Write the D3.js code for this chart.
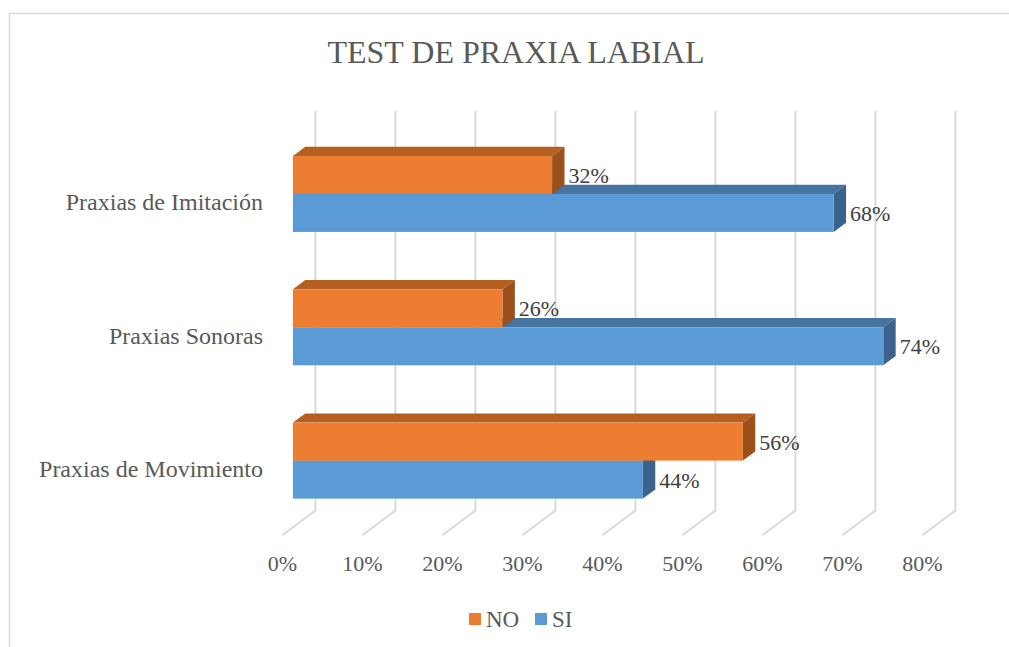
<!DOCTYPE html>
<html><head><meta charset="utf-8">
<script src="https://cdn.jsdelivr.net/npm/d3@7"></script>
<style>body{margin:0;background:#fff;}svg{display:block;}</style>
</head><body>
<svg id="c" width="1009" height="647"></svg>
<script>
const title = "TEST DE PRAXIA LABIAL";
const categories = ["Praxias de Imitación", "Praxias Sonoras", "Praxias de Movimiento"];
const seriesNames = ["NO", "SI"];
const valuesNO = [0.324, 0.262, 0.5625];
const valuesSI = [0.676, 0.738, 0.4375];
const ticks = [0, 0.1, 0.2, 0.3, 0.4, 0.5, 0.6, 0.7, 0.8];

const colors = {
  NO: {front: "#ED7D31", top: "#B65F23", side: "#9C511D"},
  SI: {front: "#5B9BD5", top: "#4674A0", side: "#3A628A"}
};
const font = "'Liberation Serif','Times New Roman',serif";

const svg = d3.select("#c");
// chart border (left/top visible)
svg.append("path").attr("d", "M9.5,647 L9.5,13.5 L1009,13.5")
  .attr("fill", "none").attr("stroke", "#d9d9d9").attr("stroke-width", 1.5);

svg.append("text").attr("x", 516).attr("y", 63).attr("text-anchor", "middle")
  .attr("font-family", font).attr("font-size", 32).attr("fill", "#595959").text(title);

// front-plane scales
const x = d3.scaleLinear().domain([0, 0.8]).range([282.5, 922.5]);
const y = d3.scaleBand().domain(categories).range([135, 535]).paddingInner(0.43).paddingOuter(0.215);
const ys = d3.scaleBand().domain(seriesNames).range([0, y.bandwidth()]);

// depth geometry
const DX = 33, DY = -24.5;     // full floor depth
const bf = 0.315, bd = 0.375;   // bar front depth fraction, bar depth fraction
const fx = DX * bf, fy = DY * bf;
const ddx = DX * bd, ddy = DY * bd;

// back wall gridlines + floor lines
const g = svg.append("g");
ticks.forEach(t => {
  const xb = x(t) + DX;
  g.append("path")
    .attr("d", `M${xb},${135 + DY} L${xb},${535 + DY} L${x(t)},535`)
    .attr("fill", "none").attr("stroke", "#d9d9d9").attr("stroke-width", 2);
});

// tick labels
svg.append("g").selectAll("text").data(ticks).join("text")
  .attr("x", d => x(d)).attr("y", 571).attr("text-anchor", "middle")
  .attr("font-family", font).attr("font-size", 22).attr("fill", "#595959")
  .text(d => d3.format(".0%")(d));

// category labels
svg.append("g").selectAll("text").data(categories).join("text")
  .attr("x", 263).attr("y", d => y(d) + y.bandwidth() / 2 + 8.5)
  .attr("text-anchor", "end")
  .attr("font-family", font).attr("font-size", 24).attr("fill", "#595959")
  .text(d => d);

// bars: SI first (lower), then NO on top
const bars = [];
categories.forEach((c, i) => {
  bars.push({cat: c, s: "SI", v: valuesSI[i]});
});
categories.forEach((c, i) => {
  bars.push({cat: c, s: "NO", v: valuesNO[i]});
});

const bg = svg.append("g");
bars.forEach(b => {
  const x0 = x(0) + fx, x1 = x(b.v) + fx;
  const y0 = y(b.cat) + ys(b.s) + fy, y1 = y0 + ys.bandwidth();
  const col = colors[b.s];
  // top face
  bg.append("path").attr("d",
    `M${x0},${y0} L${x0 + ddx},${y0 + ddy} L${x1 + ddx},${y0 + ddy} L${x1},${y0} Z`)
    .attr("fill", col.top);
  // side face
  bg.append("path").attr("d",
    `M${x1},${y0} L${x1 + ddx},${y0 + ddy} L${x1 + ddx},${y1 + ddy} L${x1},${y1} Z`)
    .attr("fill", col.side);
  // front face
  bg.append("rect").attr("x", x0).attr("y", y0).attr("width", x1 - x0).attr("height", y1 - y0)
    .attr("fill", col.front);
});

// data labels
bars.forEach(b => {
  const x1 = x(b.v) + fx + ddx;
  const yc = y(b.cat) + ys(b.s) + fy + ys.bandwidth() / 2;
  svg.append("text").attr("x", x1 + 4).attr("y", yc + 8)
    .attr("font-family", font).attr("font-size", 22).attr("fill", "#404040")
    .text(d3.format(".0%")(b.v));
});

// legend
const leg = svg.append("g");
const legItems = [{s: "NO", x: 469}, {s: "SI", x: 535}];
legItems.forEach(it => {
  leg.append("rect").attr("x", it.x).attr("y", 613).attr("width", 12).attr("height", 12)
    .attr("fill", colors[it.s].front);
  leg.append("text").attr("x", it.x + 17).attr("y", 627)
    .attr("font-family", font).attr("font-size", 23).attr("fill", "#595959").text(it.s);
});
</script>
</body></html>
